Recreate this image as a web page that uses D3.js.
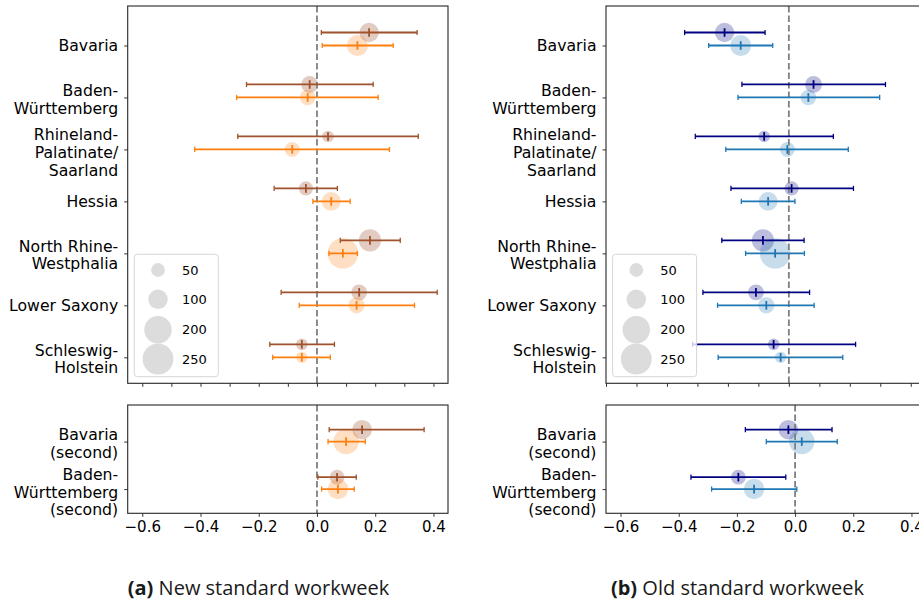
<!DOCTYPE html>
<html>
<head>
<meta charset="utf-8">
<script src="https://cdn.jsdelivr.net/npm/d3@7"></script>
<style>
  body { margin: 0; background: #fff; }
  svg { display: block; }
</style>
</head>
<body>
<svg id="chart" width="919" height="601"></svg>
<script>
// ---- data -------------------------------------------------------------
// Region labels (line breaks as drawn)
const mainRegions = [
  ["Bavaria"],
  ["Baden-", "Württemberg"],
  ["Rhineland-", "Palatinate/", "Saarland"],
  ["Hessia"],
  ["North Rhine-", "Westphalia"],
  ["Lower Saxony"],
  ["Schleswig-", "Holstein"]
];
const secondRegions = [
  ["Bavaria", "(second)"],
  ["Baden-", "Württemberg", "(second)"]
];

// Sample sizes per region (7 main regions, then the two "second" rows)
const countsA = [99, 75, 35, 53, 128, 67, 36, 101, 58];
const countsB = [115, 64, 58, 94, 245, 70, 34, 169, 110];

// Estimates as [point, lower, upper]
const newA = [
  [0.179, 0.015, 0.344], [-0.025, -0.242, 0.193], [0.038, -0.272, 0.348],
  [-0.038, -0.147, 0.070], [0.182, 0.080, 0.286], [0.145, -0.123, 0.413],
  [-0.052, -0.162, 0.060], [0.155, 0.042, 0.368], [0.069, 0.003, 0.135]
];
const newB = [
  [0.139, 0.018, 0.262], [-0.032, -0.276, 0.210], [-0.085, -0.420, 0.249],
  [0.049, -0.014, 0.114], [0.089, 0.041, 0.139], [0.136, -0.061, 0.335],
  [-0.052, -0.152, 0.046], [0.100, 0.038, 0.166], [0.072, 0.016, 0.128]
];
const oldA = [
  [-0.211, -0.342, -0.078], [0.081, -0.154, 0.317], [-0.081, -0.307, 0.146],
  [0.009, -0.190, 0.212], [-0.085, -0.220, 0.050], [-0.108, -0.282, 0.068],
  [-0.050, -0.316, 0.219], [-0.023, -0.171, 0.127], [-0.195, -0.358, -0.032]
];
const oldB = [
  [-0.158, -0.263, -0.053], [0.064, -0.167, 0.298], [-0.005, -0.207, 0.195],
  [-0.068, -0.156, 0.020], [-0.045, -0.142, 0.051], [-0.074, -0.234, 0.083],
  [-0.027, -0.232, 0.177], [0.023, -0.099, 0.145], [-0.141, -0.287, 0.006]
];

const legendSizes = [50, 100, 200, 250];
const xTicksFine = [-0.6, -0.5, -0.4, -0.3, -0.2, -0.1, 0.0, 0.1, 0.2, 0.3, 0.4];
const xTicksLabelled = [-0.6, -0.4, -0.2, 0.0, 0.2, 0.4];
const captions = [["(a)", " New standard workweek"], ["(b)", " Old standard workweek"]];

// ---- drawing ----------------------------------------------------------
const svg = d3.select("#chart");
const FONT = "'DejaVu Sans', sans-serif";
const rScale = d3.scaleSqrt().domain([0, 250]).range([0, 15.4]);

const palettes = {
  brown:  { line: "#a0522d", fill: "#a0522d", alpha: 0.3 },
  orange: { line: "#ff7f0e", fill: "#ff7f0e", alpha: 0.25 },
  navy:   { line: "#000080", fill: "#000080", alpha: 0.26 },
  blue:   { line: "#1f77b4", fill: "#1f77b4", alpha: 0.25 }
};

function drawPanel(opt) {
  const g = svg.append("g");
  const x = d3.scaleLinear().domain(opt.xDomain).range([opt.left, opt.right]);
  const y = d3.scaleLinear().domain(opt.yDomain).range([opt.top, opt.bottom]);
  const idx = d3.range(opt.start, opt.start + opt.rows.length);

  // x axis ticks
  const xAxis = d3.axisBottom(x).tickValues(opt.xTicks).tickSize(3.5).tickSizeOuter(0)
    .tickFormat(opt.xLabels ? d3.format(".1f") : () => "");
  const gx = g.append("g").attr("transform", `translate(0,${opt.bottom})`).call(xAxis);
  gx.select(".domain").remove();
  gx.selectAll(".tick line").attr("stroke", "#333").attr("stroke-width", 1);
  gx.selectAll(".tick text").attr("font-family", FONT).attr("font-size", 15)
    .attr("fill", "#000").attr("dy", "0.71em").attr("y", 8);

  // y axis ticks with multi-line labels
  const yAxis = d3.axisLeft(y).tickValues(d3.range(opt.rows.length)).tickSize(3.5)
    .tickSizeOuter(0).tickFormat(() => "");
  const gy = g.append("g").attr("transform", `translate(${opt.left},0)`).call(yAxis);
  gy.select(".domain").remove();
  gy.selectAll(".tick line").attr("stroke", "#333").attr("stroke-width", 1);
  gy.selectAll(".tick").each(function (d) {
    const lines = opt.rows[d];
    const n = lines.length;
    const t = d3.select(this).select("text")
      .attr("x", -9.5).attr("dy", null).attr("y", 0)
      .attr("text-anchor", "end").attr("font-family", FONT).attr("font-size", 15.7)
      .attr("fill", "#000").text(null);
    lines.forEach((ln, k) => {
      t.append("tspan").attr("x", -9.5)
        .attr("y", 5.5 + (k - (n - 1) / 2) * 17.6 + (n - 1) * 1.3)
        .text(ln);
    });
  });

  // sample size circles
  const series = [
    { data: opt.seriesA, counts: countsA, pal: opt.palA, off: -0.25 },
    { data: opt.seriesB, counts: countsB, pal: opt.palB, off: 0 }
  ];
  series.forEach(s => {
    g.append("g").selectAll("circle").data(idx).join("circle")
      .attr("cx", i => x(s.data[i][0]))
      .attr("cy", i => y(i - opt.start + s.off))
      .attr("r", i => rScale(s.counts[i]))
      .attr("fill", s.pal.fill).attr("fill-opacity", s.pal.alpha);
  });

  // reference line at zero
  g.append("line")
    .attr("x1", x(0)).attr("x2", x(0)).attr("y1", opt.top).attr("y2", opt.bottom)
    .attr("stroke", "#7f7f7f").attr("stroke-width", 1.8).attr("stroke-dasharray", "6.5,3");

  // error bars with caps and a centre tick
  series.forEach(s => {
    const eg = g.append("g").attr("stroke", s.pal.line);
    const rows = eg.selectAll("g").data(idx).join("g")
      .attr("transform", i => `translate(0,${y(i - opt.start + s.off)})`);
    rows.append("line").attr("x1", i => x(s.data[i][1])).attr("x2", i => x(s.data[i][2]))
      .attr("stroke-width", 1.8);
    rows.append("line").attr("x1", i => x(s.data[i][1])).attr("x2", i => x(s.data[i][1]))
      .attr("y1", -2.6).attr("y2", 2.6).attr("stroke-width", 1.3);
    rows.append("line").attr("x1", i => x(s.data[i][2])).attr("x2", i => x(s.data[i][2]))
      .attr("y1", -2.6).attr("y2", 2.6).attr("stroke-width", 1.3);
    rows.append("line").attr("x1", i => x(s.data[i][0])).attr("x2", i => x(s.data[i][0]))
      .attr("y1", -4.3).attr("y2", 4.3).attr("stroke-width", 1.8);
  });

  // frame
  g.append("rect").attr("x", opt.left).attr("y", opt.top)
    .attr("width", opt.right - opt.left).attr("height", opt.bottom - opt.top)
    .attr("fill", "none").attr("stroke", "#262626").attr("stroke-width", 1.1);

  // size legend
  if (opt.legend) {
    const lx = opt.left + 6.6, ly = opt.bottom - 6.6 - 122.4;
    const lg = g.append("g").attr("transform", `translate(${lx},${ly})`);
    lg.append("rect").attr("width", 84).attr("height", 122.4).attr("rx", 3)
      .attr("fill", "#fff").attr("fill-opacity", 0.8)
      .attr("stroke", "#d6d6d6").attr("stroke-width", 1);
    const rowY = [15.7, 45, 75.4, 104.7];
    legendSizes.forEach((v, k) => {
      lg.append("circle").attr("cx", 23.7).attr("cy", rowY[k]).attr("r", rScale(v))
        .attr("fill", "#dcdcdc");
      lg.append("text").attr("x", 47.7).attr("y", rowY[k] + 4.7)
        .attr("font-family", FONT).attr("font-size", 13).attr("fill", "#000").text(v);
    });
  }
}

const colLeft = { left: 127.7, right: 448 };
const colRight = { left: 606, right: 926 };
const topBox = { top: 6, bottom: 383.3, yDomain: [-0.76, 6.5] };
const botBox = { top: 405, bottom: 513.3, yDomain: [-0.77, 1.51] };

// (a) new standard workweek
drawPanel({ ...colLeft, ...topBox, xDomain: [-0.65, 0.45], xTicks: xTicksFine, xLabels: false,
  rows: mainRegions, start: 0, seriesA: newA, seriesB: newB,
  palA: palettes.brown, palB: palettes.orange, legend: true });
drawPanel({ ...colLeft, ...botBox, xDomain: [-0.65, 0.45], xTicks: xTicksLabelled, xLabels: true,
  rows: secondRegions, start: 7, seriesA: newA, seriesB: newB,
  palA: palettes.brown, palB: palettes.orange, legend: false });

// (b) old standard workweek
drawPanel({ ...colRight, ...topBox, xDomain: [-0.6, 0.45], xTicks: xTicksFine, xLabels: false,
  rows: mainRegions, start: 0, seriesA: oldA, seriesB: oldB,
  palA: palettes.navy, palB: palettes.blue, legend: true });
drawPanel({ ...colRight, ...botBox, xDomain: [-0.65, 0.45], xTicks: xTicksLabelled, xLabels: true,
  rows: secondRegions, start: 7, seriesA: oldA, seriesB: oldB,
  palA: palettes.navy, palB: palettes.blue, legend: false });

// sub-captions
[258.5, 737.5].forEach((cx, k) => {
  const t = svg.append("text").attr("x", cx).attr("y", 595).attr("text-anchor", "middle")
    .attr("font-family", "'Open Sans', 'Noto Sans', sans-serif").attr("font-size", 20)
    .attr("fill", "#1a1a1a");
  t.append("tspan").attr("font-weight", "bold").text(captions[k][0]);
  t.append("tspan").text(captions[k][1]);
});
</script>
</body>
</html>
